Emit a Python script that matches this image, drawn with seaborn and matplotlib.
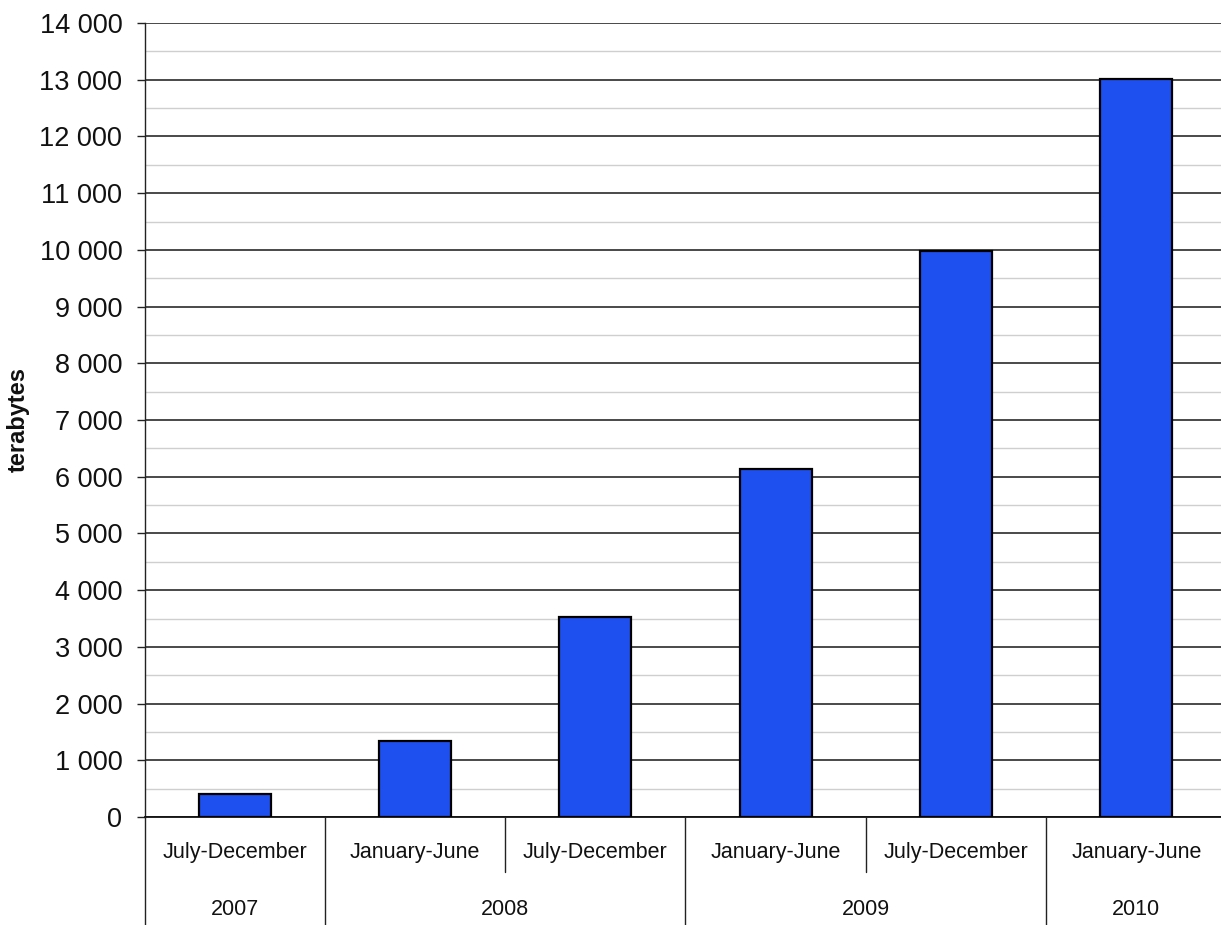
import matplotlib
matplotlib.use("Agg")
import matplotlib.pyplot as plt
from matplotlib.ticker import FuncFormatter, MultipleLocator
import seaborn as sns
import pandas as pd

# Storage volume per half-year period
half_years = ["July-December", "January-June", "July-December",
              "January-June", "July-December", "January-June"]
years = ["2007", "2008", "2008", "2009", "2009", "2010"]
terabytes = [400, 1340, 3530, 6135, 9980, 13015]

# Year groups: label and the span of bar indices they cover
year_labels = ["2007", "2008", "2009", "2010"]
year_spans = [(0, 0), (1, 2), (3, 4), (5, 5)]

sns.set_theme(style="white")
plt.rcParams["font.family"] = ["Liberation Sans", "DejaVu Sans"]

df = pd.DataFrame({
    "period": [f"{h} {y}" for h, y in zip(half_years, years)],
    "terabytes": terabytes,
})

fig = plt.figure(figsize=(12.21, 9.25), dpi=100)
ax = fig.add_axes([144.5 / 1221, 108 / 925, 1082 / 1221, 794 / 925])

sns.barplot(data=df, x="period", y="terabytes", order=df["period"],
            color="#1E50F0", saturation=1, width=0.4,
            edgecolor="black", linewidth=1.6, ax=ax, zorder=3)

ax.set_xlim(-0.5, len(half_years) - 0.5)
ax.set_ylim(0, 14000)

# y axis: majors every 1000, light minors every 500
ax.yaxis.set_major_locator(MultipleLocator(1000))
ax.yaxis.set_minor_locator(MultipleLocator(500))
ax.yaxis.set_major_formatter(
    FuncFormatter(lambda v, _: f"{int(v):,}".replace(",", " ")))
ax.grid(axis="y", which="major", color="#3a3a3a", linewidth=1.3, zorder=1)
ax.grid(axis="y", which="minor", color="#cfcfcf", linewidth=1.0, zorder=1)
ax.set_axisbelow(True)
ax.tick_params(axis="y", which="major", left=True, length=6, width=1.0,
               color="#222222", labelsize=19.5, pad=10, labelcolor="#111111")
ax.tick_params(axis="y", which="minor", left=False, length=0)

ax.set_ylabel("terabytes", fontsize=17, fontweight="bold", labelpad=7,
              color="#111111")
ax.set_xlabel("")

# first row of category labels: half-year periods
ax.set_xticks(range(len(half_years)))
ax.set_xticklabels(half_years, fontsize=15.5, color="#111111")
ax.tick_params(axis="x", length=0, pad=18)

# second row: years, centred under their groups
trans = ax.get_xaxis_transform()
for label, (a, b) in zip(year_labels, year_spans):
    ax.text((a + b) / 2, -0.1234, label, transform=trans, ha="center",
            va="baseline", fontsize=15.5, color="#111111")

# separators between groups (full height) and within groups (short)
full_bottom = -0.14
short_bottom = -0.069
for a, b in year_spans:
    ax.plot([a - 0.5, a - 0.5], [0, full_bottom], transform=trans,
            color="#222222", lw=1.0, clip_on=False, zorder=4)
    for k in range(a + 1, b + 1):
        ax.plot([k - 0.5, k - 0.5], [0, short_bottom], transform=trans,
                color="#222222", lw=1.0, clip_on=False, zorder=4)

for side in ("top", "right"):
    ax.spines[side].set_visible(False)
ax.spines["left"].set_color("#222222")
ax.spines["left"].set_linewidth(1.0)
ax.spines["bottom"].set_color("#111111")
ax.spines["bottom"].set_linewidth(1.3)

fig.savefig("out.png", dpi=100, facecolor="white")
